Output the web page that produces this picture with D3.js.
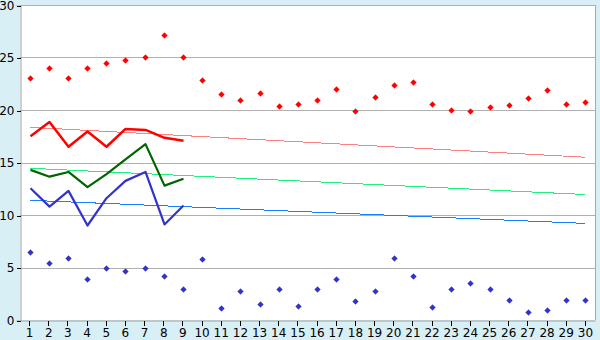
<!DOCTYPE html>
<html lang="en">
<head>
<meta charset="UTF-8"/>
<script src="https://d3js.org/d3.v7.min.js"></script>
<style>
  body { margin: 0; background: #d9eff6; }
  text { font-family: "DejaVu Sans", sans-serif; font-size: 12px; fill: #000; }
</style>
</head>
<body>
<div id="chart"></div>
<script>
// categories 1..30
var days = ["1","2","3","4","5","6","7","8","9","10","11","12","13","14","15","16","17","18","19","20","21","22","23","24","25","26","27","28","29","30"];
var yTicks = [0, 5, 10, 15, 20, 25, 30];

// upper scatter (red) and lower scatter (blue)
var highs = [23.0, 24.0, 23.0, 24.0, 24.5, 24.8, 25.0, 27.1, 25.0, 22.9, 21.5, 21.0, 21.6, 20.4, 20.6, 21.0, 22.0, 19.9, 21.2, 22.35, 22.7, 20.6, 20.0, 19.9, 20.25, 20.5, 21.1, 21.9, 20.6, 20.8];
var lows = [6.5, 5.4, 5.95, 3.95, 5.0, 4.7, 5.0, 4.15, 3.0, 5.85, 1.1, 2.8, 1.5, 3.0, 1.3, 3.0, 3.95, 1.85, 2.8, 5.95, 4.15, 1.2, 3.0, 3.5, 3.0, 1.95, 0.8, 1.0, 1.95, 1.95];

// short series for first 9 days
var redLine = [17.5, 18.85, 16.5, 17.95, 16.5, 18.2, 18.1, 17.35, 17.08];
var greenLine = [14.3, 13.65, 14.1, 12.65, 13.9, 15.3, 16.75, 12.8, 13.45];
var blueLine = [12.55, 10.8, 12.3, 9.0, 11.6, 13.25, 14.1, 9.1, 10.9];

// trend lines (start, end)
var redTrend = [18.35, 15.5];
var greenTrend = [14.45, 11.95];
var blueTrend = [11.4, 9.2];

var width = 600, height = 340;
var margin = {top: 5, right: 5, bottom: 20, left: 20};

var svg = d3.select("#chart").append("svg")
  .attr("width", width)
  .attr("height", height);

var x = d3.scaleBand()
  .domain(days)
  .range([margin.left, width - margin.right]);

var y = d3.scaleLinear()
  .domain([0, 30])
  .range([height - margin.bottom, margin.top]);

var cx = function(d) { return Math.round(x(d) + x.bandwidth() / 2) + 0.5; };

// plot background
svg.append("rect")
  .attr("x", margin.left)
  .attr("y", margin.top)
  .attr("width", width - margin.left - margin.right)
  .attr("height", height - margin.top - margin.bottom)
  .attr("fill", "#fff");

// grid lines (30 doubles as the top border)
svg.selectAll(".grid")
  .data(yTicks.slice(1))
  .enter()
  .append("line")
  .attr("x1", margin.left)
  .attr("x2", width - margin.right)
  .attr("y1", d => Math.round(y(d)) + 0.5)
  .attr("y2", d => Math.round(y(d)) + 0.5)
  .attr("stroke", "#b0b0b0")
  .attr("shape-rendering", "crispEdges");

// right border
svg.append("line")
  .attr("x1", width - margin.right + 0.5)
  .attr("x2", width - margin.right + 0.5)
  .attr("y1", margin.top)
  .attr("y2", height - margin.bottom)
  .attr("stroke", "#a8a8a8")
  .attr("shape-rendering", "crispEdges");

// axes
var yAxis = d3.axisLeft(y).tickValues(yTicks).tickSize(4).tickPadding(2);
var gy = svg.append("g")
  .attr("transform", "translate(" + (margin.left + 0.5) + ",0.5)")
  .call(yAxis);
gy.select(".domain").attr("stroke", "#a0a0a0");

var xAxis = d3.axisBottom(x).tickSize(5).tickSizeOuter(0).tickPadding(3);
var gx = svg.append("g")
  .attr("transform", "translate(0," + (Math.round(y(0)) + 0.5) + ")")
  .call(xAxis);
gx.select(".domain").attr("stroke", "#a0a0a0");

svg.selectAll(".tick line").attr("shape-rendering", "crispEdges");
svg.selectAll(".tick text").style("font-size", "12px").style("font-family", "DejaVu Sans, sans-serif");

// trend lines
function trend(vals, color) {
  svg.append("line")
    .attr("x1", cx(days[0]))
    .attr("x2", cx(days[days.length - 1]))
    .attr("y1", y(vals[0]))
    .attr("y2", y(vals[1]))
    .attr("stroke", color)
    .attr("stroke-width", 1)
    .attr("shape-rendering", "crispEdges");
}
trend(redTrend, "#ff8080");
trend(greenTrend, "#22f080");
trend(blueTrend, "#1a80ff");

// short lines
var line = d3.line()
  .x((d, i) => cx(days[i]))
  .y(d => y(d));

function drawLine(vals, color, w) {
  svg.append("path")
    .datum(vals)
    .attr("d", line)
    .attr("fill", "none")
    .attr("stroke", color)
    .attr("stroke-width", w)
    .attr("stroke-linejoin", "round");
}
drawLine(redLine, "#ff0000", 2.5);
drawLine(greenLine, "#006400", 2.2);
drawLine(blueLine, "#3333cc", 2.2);

// scatter markers
var marker = "M-0.5,-2.5h1v1h1v1h1v1h-1v1h-1v1h-1v-1h-1v-1h-1v-1h1v-1h1z";
function drawPoints(vals, color) {
  svg.append("g")
    .selectAll("path")
    .data(vals)
    .enter()
    .append("path")
    .attr("transform", (d, i) => "translate(" + cx(days[i]) + "," + (Math.round(y(d)) + 0.5) + ")")
    .attr("d", marker)
    .attr("fill", color)
    .attr("stroke", color)
    .attr("stroke-width", 0.8);
}
drawPoints(highs, "#ff0000");
drawPoints(lows, "#3333cc");
</script>
</body>
</html>
